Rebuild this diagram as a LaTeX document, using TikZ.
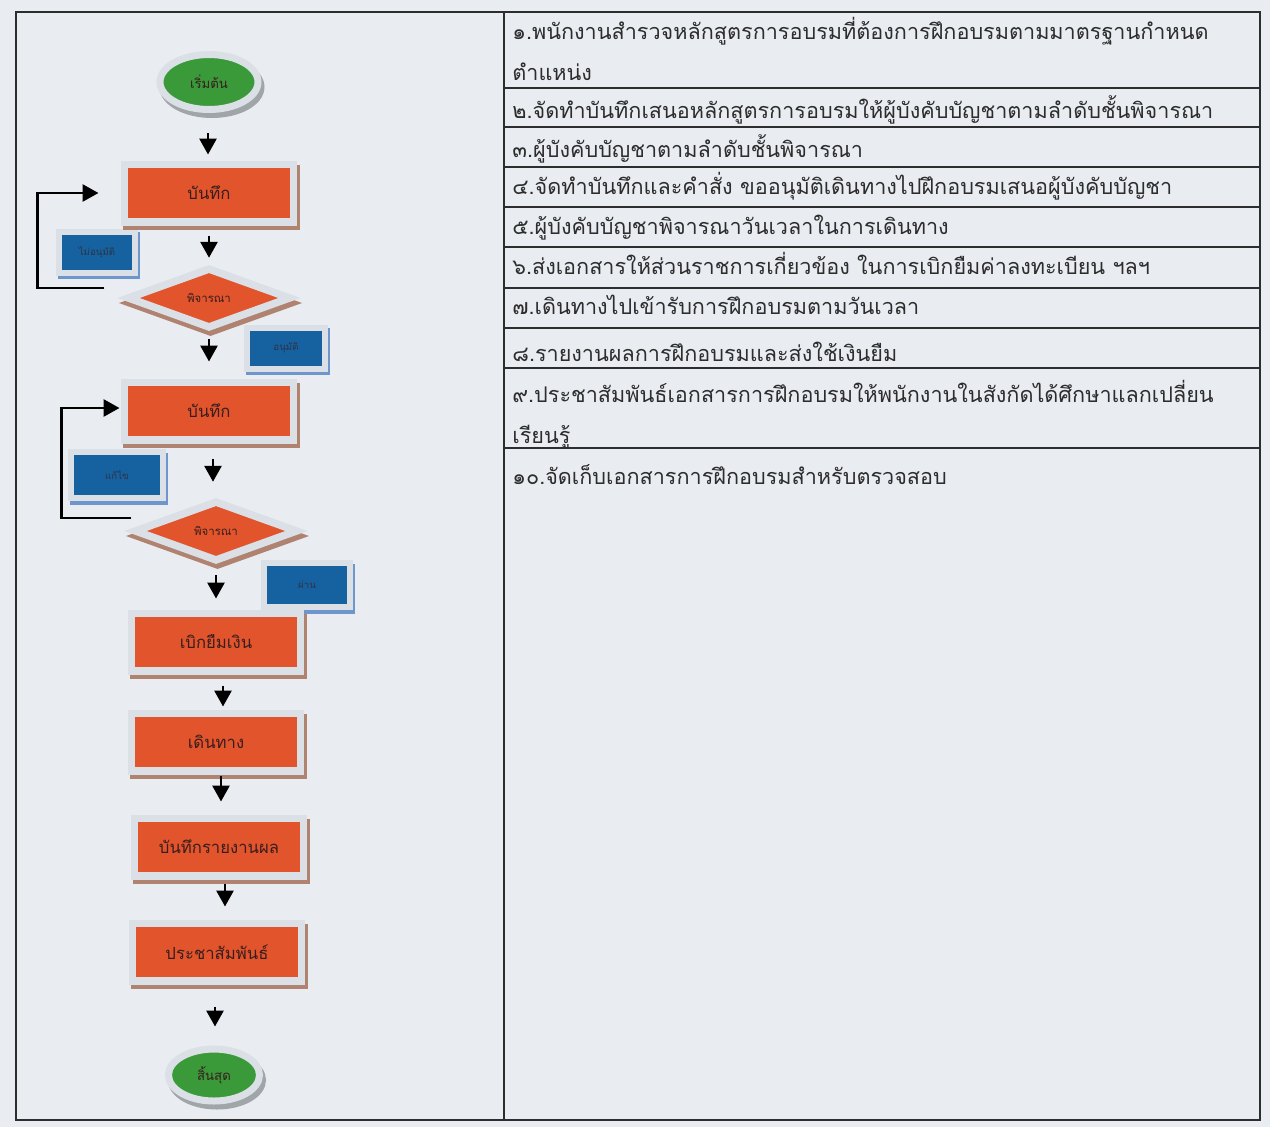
\documentclass[tikz,border=0pt]{standalone}
\usepackage{fontspec}
\newfontfamily\thai[Script=Thai]{Loma}
\usetikzlibrary{arrows.meta, shapes.geometric, calc}

\definecolor{paper}{RGB}{233,236,241}
\definecolor{boxred}{RGB}{226,84,44}
\definecolor{boxblue}{RGB}{22,98,160}
\definecolor{okgreen}{RGB}{58,154,58}
\definecolor{rim}{RGB}{219,224,231}
\definecolor{brownshade}{RGB}{176,130,112}
\definecolor{blueshade}{RGB}{110,150,205}
\definecolor{grayshade}{RGB}{160,165,168}
\definecolor{ink}{RGB}{55,30,30}
\definecolor{rule}{RGB}{45,45,45}

\begin{document}
\begin{tikzpicture}[
		x=0.02cm, y=-0.02cm,
		flow/.style={-{Triangle[length=3.2mm, width=3.4mm]}, line width=1.6pt},
		recbox/.style={rectangle, fill=boxred, draw=rim, line width=1.5mm,
			minimum width=3.39cm, minimum height=1.15cm, inner sep=0pt,
			font=\thai\fontsize{9.5}{11}\selectfont, text=ink,
			preaction={draw=brownshade, fill=brownshade, line width=1.5mm,
				transform canvas={shift={(0.05cm,-0.08cm)}}}},
		askbox/.style={diamond, aspect=3, fill=boxred, draw=rim, line width=1.5mm,
			minimum width=3.28cm, minimum height=1.22cm, inner sep=0pt,
			font=\thai\fontsize{6.5}{8}\selectfont, text=ink,
			preaction={draw=brownshade, fill=brownshade, line width=1.5mm,
				transform canvas={shift={(0.03cm,-0.1cm)}}}},
		notebox/.style={rectangle, fill=boxblue, draw=rim, line width=1.2mm, inner sep=0pt,
			font=\thai\fontsize{5.5}{7}\selectfont, text=ink!70!boxblue,
			preaction={draw=blueshade, fill=blueshade, line width=1.2mm,
				transform canvas={shift={(0.04cm,-0.07cm)}}}},
		endcap/.style={ellipse, fill=okgreen, draw=rim, line width=1.4mm, inner sep=0pt,
			font=\thai\fontsize{7.5}{9}\selectfont, text=ink,
			preaction={draw=grayshade, fill=grayshade, line width=1.4mm,
				transform canvas={shift={(0.06cm,-0.1cm)}}}},
		steptext/.style={anchor=base west, inner sep=0pt, align=left, text=rule,
			font=\thai\fontsize{12.3}{22.8}\selectfont},
	]
	\useasboundingbox (0,0) rectangle (1270,1127);
	\fill[paper] (0,0) rectangle (1270,1127);

	% table
	\draw[rule, line width=0.8pt] (16,12) rectangle (1260,1120);
	\draw[rule, line width=0.8pt] (504,12) -- (504,1120);
	\foreach \y in {88,127,167,207,247,288,328,368,448}
		\draw[rule, line width=0.8pt] (504,\y) -- (1260,\y);

	% multi-line nodes sit on their last baseline
	\node[steptext] (s1) at (512,80) {๑.พนักงานสำรวจหลักสูตรการอบรมที่ต้องการฝึกอบรมตามมาตรฐานกำหนด\\ตำแหน่ง};
	\node[steptext] (s2) at (512,118) {๒.จัดทำบันทึกเสนอหลักสูตรการอบรมให้ผู้บังคับบัญชาตามลำดับชั้นพิจารณา};
	\node[steptext] (s3) at (512,157) {๓.ผู้บังคับบัญชาตามลำดับชั้นพิจารณา};
	\node[steptext] (s4) at (512,194) {๔.จัดทำบันทึกและคำสั่ง ขออนุมัติเดินทางไปฝึกอบรมเสนอผู้บังคับบัญชา};
	\node[steptext] (s5) at (512,234) {๕.ผู้บังคับบัญชาพิจารณาวันเวลาในการเดินทาง};
	\node[steptext] (s6) at (512,274) {๖.ส่งเอกสารให้ส่วนราชการเกี่ยวข้อง ในการเบิกยืมค่าลงทะเบียน ฯลฯ};
	\node[steptext] (s7) at (512,314) {๗.เดินทางไปเข้ารับการฝึกอบรมตามวันเวลา};
	\node[steptext] (s8) at (512,361) {๘.รายงานผลการฝึกอบรมและส่งใช้เงินยืม};
	\node[steptext] (s9) at (512,443) {๙.ประชาสัมพันธ์เอกสารการฝึกอบรมให้พนักงานในสังกัดได้ศึกษาแลกเปลี่ยน\\เรียนรู้};
	\node[steptext] (s10) at (512,484) {๑๐.จัดเก็บเอกสารการฝึกอบรมสำหรับตรวจสอบ};

	% side notes
	\node[notebox, minimum width=1.52cm, minimum height=0.82cm] (reject) at (97,252) {ไม่อนุมัติ};
	\node[notebox, minimum width=1.58cm, minimum height=0.82cm] (approve) at (286,348) {อนุมัติ};
	\node[notebox, minimum width=1.84cm, minimum height=0.92cm] (revise) at (117,475) {แก้ไข};
	\node[notebox, minimum width=1.72cm, minimum height=0.88cm] (pass) at (307,585) {ผ่าน};

	% flow
	\node[endcap, minimum width=1.96cm, minimum height=1.1cm] (start) at (209,82) {เริ่มต้น};
	\node[recbox] (memo1) at (209,193) {บันทึก};
	\node[askbox] (check1) at (209,298) {พิจารณา};
	\node[recbox] (memo2) at (209,411) {บันทึก};
	\node[askbox] (check2) at (216,531) {พิจารณา};
	\node[recbox] (borrow) at (216,642) {เบิกยืมเงิน};
	\node[recbox] (travel) at (216,742) {เดินทาง};
	\node[recbox] (report) at (219,847) {บันทึกรายงานผล};
	\node[recbox] (publish) at (217,952) {ประชาสัมพันธ์};
	\node[endcap, minimum width=1.82cm, minimum height=1.04cm] (finish) at (214,1075) {สิ้นสุด};

	\foreach \a/\b/\dx/\s/\e in {start/memo1/-1/20/6, memo1/check1/0/10/6,
			check1/memo2/0/7/17, memo2/check2/4/15/15, check2/borrow/0/10/11,
			borrow/travel/7/11/3, travel/report/5/1/13, report/publish/6/4/13,
			publish/finish/-2/22/19}
		\draw[flow, shorten <=\s*0.02cm, shorten >=\e*0.02cm]
			([xshift=\dx*0.02cm]\a.south) -- ([xshift=\dx*0.02cm]\a.south |- \b.north);

	% loops back
	\draw[flow, shorten >=0.44cm] ([shift={(-19,-10)}]check1.west) -- ++(-67,0) |- (memo1.west);
	\draw[flow, shorten >=0.02cm] ([shift={(1,-13)}]check2.west) -- ++(-70,0) |- ([yshift=0.06cm]memo2.west);
\end{tikzpicture}
\end{document}
